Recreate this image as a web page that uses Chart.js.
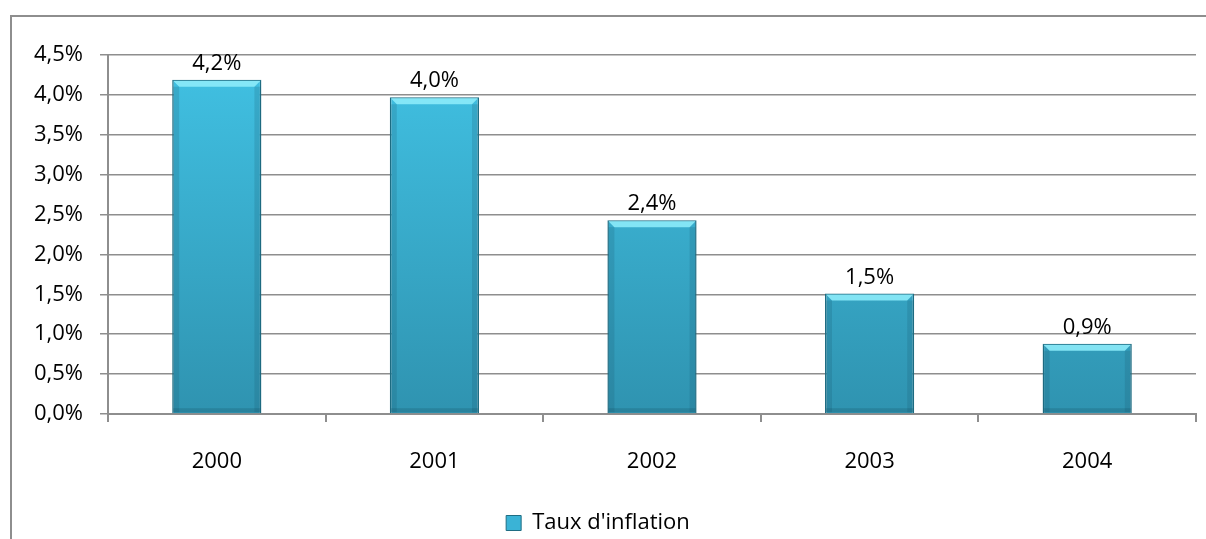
<!DOCTYPE html>
<html>
<head>
<meta charset="utf-8">
<script src="https://cdn.jsdelivr.net/npm/chart.js@4.4.1/dist/chart.umd.min.js"></script>
<style>
  html, body { margin: 0; padding: 0; background: #fff; overflow: hidden; }
  #frame { position: absolute; left: 10px; top: 15px; width: 1300px; height: 600px;
           border-left: 2px solid #8e8e8e; border-top: 2px solid #8e8e8e; }
  #wrap { position: absolute; left: 0; top: 0; width: 1206px; height: 539px; }
</style>
</head>
<body>
<div id="frame"></div>
<div id="wrap"><canvas id="barChart" width="1206" height="539"></canvas></div>
<script>
// données
const years = ['2000', '2001', '2002', '2003', '2004'];
const inflation = [4.19, 3.97, 2.43, 1.51, 0.88];
const yTicks = [0, 0.5, 1, 1.5, 2, 2.5, 3, 3.5, 4, 4.5];
const seriesName = "Taux d'inflation";

const FONT = "'Open Sans', sans-serif";
const FSIZE = 22;
const fmt = v => v.toFixed(1).replace('.', ',') + '%';

// valeurs au-dessus des barres + reflets
const barDecor = {
  id: 'barDecor',
  afterDatasetsDraw(chart) {
    const ctx = chart.ctx;
    const meta = chart.getDatasetMeta(0);
    meta.data.forEach((bar, i) => {
      const w = bar.width, left = bar.x - w / 2, right = bar.x + w / 2;
      const top = bar.y, bottom = bar.base;
      ctx.save();
      // bord supérieur clair
      ctx.fillStyle = 'rgba(140,235,250,0.9)';
      ctx.beginPath();
      ctx.moveTo(left + 1, top + 1);
      ctx.lineTo(right - 1, top + 1);
      ctx.lineTo(right - 7, top + 7);
      ctx.lineTo(left + 7, top + 7);
      ctx.closePath();
      ctx.fill();
      // côtés plus sombres
      ctx.fillStyle = 'rgba(20,80,100,0.18)';
      ctx.fillRect(left + 1, top + 7, 6, bottom - top - 8);
      ctx.fillRect(right - 7, top + 7, 6, bottom - top - 8);
      ctx.fillStyle = 'rgba(20,80,100,0.25)';
      ctx.fillRect(left + 1, bottom - 5, w - 2, 4);
      // étiquette
      ctx.fillStyle = '#000';
      ctx.font = FSIZE + 'px ' + FONT;
      ctx.textAlign = 'center';
      ctx.textBaseline = 'alphabetic';
      ctx.fillText(fmt(inflation[i]), bar.x, top - 10);
      ctx.restore();
    });
  }
};

const ctx = document.getElementById('barChart');
new Chart(ctx, {
  type: 'bar',
  data: {
    labels: years,
    datasets: [{
      label: seriesName,
      data: inflation,
      backgroundColor: (c) => {
        const area = c.chart.chartArea;
        if (!area) return '#3ab3d6';
        const g = c.chart.ctx.createLinearGradient(0, area.top, 0, area.bottom);
        g.addColorStop(0, '#41c2e4');
        g.addColorStop(1, '#2f93b0');
        return g;
      },
      borderColor: '#1f6d83',
      borderWidth: 1.5,
      categoryPercentage: 1,
      barPercentage: 0.41
    }]
  },
  options: {
    responsive: false,
    animation: false,
    layout: { padding: { top: 55, right: 10, left: 0, bottom: -5 } },
    plugins: {
      tooltip: { enabled: false },
      legend: {
        position: 'bottom',
        labels: {
          font: { family: FONT, size: FSIZE },
          color: '#000',
          boxWidth: 15,
          boxHeight: 15,
          padding: 5,
          generateLabels: () => [{
            text: seriesName,
            fillStyle: '#3ab3d6',
            strokeStyle: '#1f6d83',
            lineWidth: 1,
            fontColor: '#000'
          }]
        }
      }
    },
    scales: {
      x: {
        offset: true,
        grid: { display: true, drawOnChartArea: false, drawTicks: true, tickLength: 8, offset: true, color: '#8e8e8e', lineWidth: 2 },
        border: { display: true, color: '#8e8e8e', width: 2 },
        ticks: { color: '#000', font: { family: FONT, size: FSIZE }, padding: 27 },
        afterFit: (s) => { s.height = 93; }
      },
      y: {
        min: 0,
        max: 4.5,
        afterBuildTicks: (s) => { s.ticks = yTicks.map(v => ({ value: v })); },
        grid: { color: '#8e8e8e', lineWidth: 1.5, tickLength: 8 },
        border: { display: true, color: '#8e8e8e', width: 2 },
        ticks: {
          color: '#000',
          font: { family: FONT, size: FSIZE },
          padding: 17,
          callback: (v) => fmt(v)
        },
        afterFit: (s) => { s.width = 108; }
      }
    }
  },
  plugins: [barDecor]
});
</script>
</body>
</html>
